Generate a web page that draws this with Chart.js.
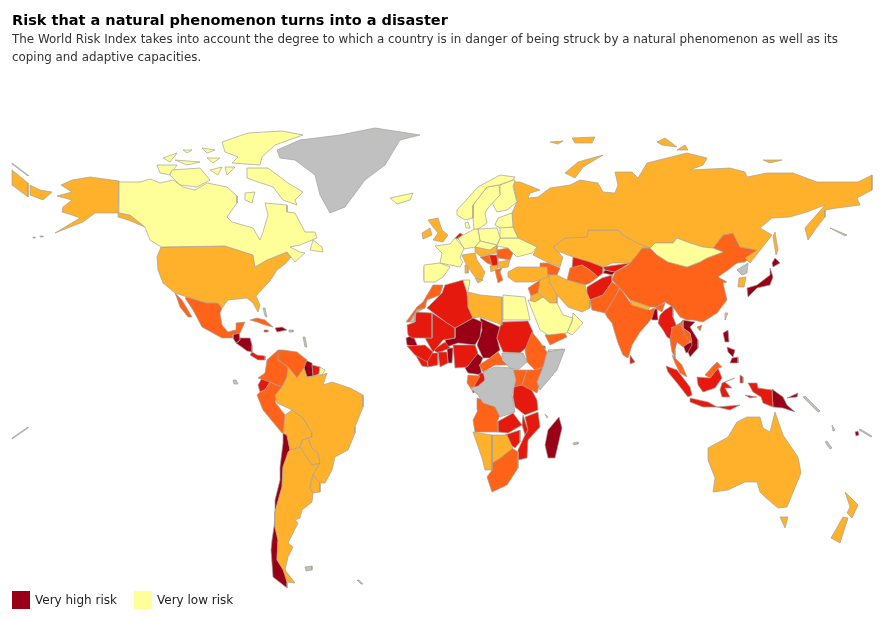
<!DOCTYPE html>
<html>
<head>
<meta charset="utf-8">
<title>World Risk Index</title>
<script src="https://cdn.jsdelivr.net/npm/chart.js@4"></script>
<style>
  html, body { margin: 0; background: #fff; }
  body { width: 886px; height: 619px; position: relative; overflow: hidden; font-family: "DejaVu Sans", sans-serif; }
  #map { position: absolute; left: 0; top: 0; }
  h1 { position: absolute; left: 12px; top: 11px; margin: 0; font-size: 14.5px; line-height: 18px; color: #000; white-space: nowrap; }
  p { position: absolute; left: 12px; top: 30px; margin: 0; font-size: 11.9px; line-height: 18px; color: #333; white-space: nowrap; }
  .key { position: absolute; top: 591px; height: 18px; font-size: 12px; line-height: 19px; color: #222; padding-left: 23px; white-space: nowrap; }
  .key i { position: absolute; left: 0; top: 0; width: 18px; height: 18px; }
</style>
</head>
<body>
<canvas id="map" width="886" height="619"></canvas>
<h1>Risk that a natural phenomenon turns into a disaster</h1>
<p>The World Risk Index takes into account the degree to which a country is in danger of being struck by a natural phenomenon as well as its<br>coping and adaptive capacities.</p>
<div class="key" style="left:12px"><i style="background:#990017"></i>Very high risk</div>
<div class="key" style="left:134px"><i style="background:#ffff99"></i>Very low risk</div>
<script>
// outlines, x,y pairs in map units
const canada = [119,182,140,182,150,179,160,183,173,180,183,187,195,190,207,183,227,187,237,196,237,203,227,217,232,222,253,228,260,240,263,232,268,215,265,203,287,205,287,212,295,213,305,232,315,232,317,238,300,245,290,247,300,252,305,253,295,262,291,257,287,252,267,260,255,267,253,255,225,246,161,247,150,240,145,227,130,215,119,213]
const baffin = [247,168,268,168,288,183,303,192,295,200,297,205,283,200,273,187,258,182,247,178]
const victoria = [172,170,200,168,210,180,197,187,180,185,170,175]
const banks = [157,165,177,165,170,175,160,173]
const ellesmere = [222,142,248,133,282,131,303,135,275,145,262,157,260,165,232,163,238,157,225,152]
const arctic1 = [163,158,177,153,170,162]
const arctic2 = [175,160,200,162,187,165]
const arctic3 = [183,150,192,150,187,153]
const arctic4 = [202,148,215,150,207,153]
const arctic5 = [207,158,220,158,213,163]
const arctic6 = [210,170,222,167,218,175]
const arctic7 = [225,167,235,167,227,175]
const southampton = [245,193,255,192,252,203,245,200]
const newfoundland = [313,240,322,247,323,252,310,250]
const alaska = [119,181,90,177,72,180,61,185,72,192,57,196,72,200,63,207,62,212,72,215,80,218,55,233,83,222,95,213,118,213,130,215,145,227,128,220,118,217]
const aleutian1 = [33,237,35,237,35,238,33,238]
const aleutian2 = [40,236,43,236,43,237,40,237]
const usa = [161,247,225,246,253,255,255,267,267,260,287,252,291,257,285,264,277,270,272,278,268,283,256,296,260,305,258,312,253,303,247,298,228,300,222,308,218,303,207,303,187,297,175,293,163,283,158,270,157,257]
const baja = [175,293,182,300,192,317,188,317,180,307,177,298]
const mexico = [187,297,207,303,218,303,222,308,220,313,222,325,228,332,235,330,236,323,245,322,240,333,232,335,233,338,222,338,202,327,193,310,185,298]
const guatemala = [233,338,233,333,239,333,240,340,236,343]
const honduras = [239,333,240,338,250,338,252,345,252,352,247,351,243,348,236,343,240,340]
const panama = [252,352,257,355,265,356,265,360,258,360,250,355]
const cuba = [250,320,257,318,265,320,273,327,265,325,257,322]
const haiti = [275,328,282,327,287,330,277,332]
const jamaica = [264,330,268,330,268,332,264,332]
const puertoRico = [289,330,293,330,293,332,289,332]
const bahamas = [263,308,265,308,267,317,265,316]
const antilles = [303,337,305,337,307,347,305,347]
const galapagos = [233,380,236,380,238,384,234,384]
const colombia = [278,350,267,360,265,373,258,378,270,382,282,387,287,377,288,367,278,360]
const venezuela = [278,350,283,350,297,352,307,360,304,368,297,378,288,367,278,360]
const guyana = [305,360,312,363,313,376,307,377,304,368]
const suriname = [312,365,320,367,319,374,313,376]
const frGuiana = [320,367,325,370,322,375,319,374]
const ecuador = [262,378,270,382,265,390,260,392,258,385]
const peru = [260,392,265,390,270,382,282,387,275,402,285,415,286,433,282,433,263,410,257,395]
const brazil = [288,367,297,378,304,368,307,377,322,375,327,373,323,385,332,382,350,388,363,395,363,407,355,427,355,433,348,450,335,457,332,470,325,483,320,483,313,475,320,463,318,453,312,448,308,438,312,437,312,433,303,418,292,410,277,403,275,395,282,387,287,377]
const bolivia = [285,415,292,410,303,418,312,433,312,437,308,438,302,440,300,447,297,448,290,450,287,435,283,433]
const paraguay = [302,440,308,438,312,448,318,453,320,463,312,465,300,447]
const uruguay = [313,475,320,483,320,492,313,493,310,488]
const argentina = [290,450,297,448,300,447,312,465,320,463,318,470,312,477,310,488,313,493,312,502,302,510,300,518,295,520,298,523,292,535,288,543,293,547,288,557,285,570,295,583,287,582,283,570,277,560,278,540,275,527,275,512,282,487,283,467,288,452]
const chile = [283,433,287,435,290,450,283,467,282,487,275,512,275,527,278,540,277,560,285,570,287,583,287,588,273,577,271,550,272,540,275,520,275,500,280,480,280,467,283,443]
const falklands = [305,567,312,566,312,570,306,571]
const georgiaIsl = [357,580,359,580,363,584,361,584]
const greenland = [277,150,300,140,340,135,375,128,420,135,400,140,385,165,365,180,345,207,330,213,320,195,315,175,295,160,280,158]
const iceland = [390,198,413,193,410,200,397,204]
const uk = [428,220,438,218,442,230,448,235,443,242,433,240,438,233,433,227]
const ireland = [422,233,430,228,432,235,423,239]
const france = [435,246,450,244,455,238,464,248,460,258,463,262,460,267,450,265,440,263,442,253]
const spain = [424,265,440,263,450,267,443,277,435,282,424,282]
const portugal = [424,267,430,267,429,278,424,280]
const netherlands = [455,238,460,233,463,235,462,240]
const germany = [463,235,475,229,478,229,480,241,475,247,464,249,458,238]
const denmark = [465,223,468,222,470,228,466,228]
const norway = [457,210,478,187,500,175,515,177,513,180,499,185,487,187,473,205,473,218,465,220,457,215]
const sweden = [473,205,487,187,499,185,500,195,488,208,485,213,487,223,480,228,474,230,473,218]
const finland = [500,185,513,180,515,180,513,187,517,202,507,210,497,212,492,203,500,195]
const baltics = [498,218,512,213,513,227,500,228,495,225]
const poland = [478,229,497,228,500,238,497,245,480,241]
const belarus = [500,227,513,227,518,238,500,238]
const ukraine = [500,238,518,238,537,247,532,253,517,257,508,248,497,246]
const czechia = [480,241,497,245,490,250,475,247]
const hungary = [475,247,497,246,497,253,480,256,475,252]
const italy = [462,255,475,253,477,260,485,272,482,280,475,277,470,270,465,262]
const sicily = [475,278,483,280,478,283]
const sardinia = [465,265,468,265,468,273,465,273]
const romania = [497,250,508,248,513,253,510,260,498,258]
const bulgaria = [498,262,510,260,508,267,500,268]
const serbia = [489,255,497,255,498,265,492,267]
const bosnia = [480,257,489,255,492,265,487,263]
const greece = [495,270,502,268,500,272,503,280,498,283]
const albania = [490,266,498,265,498,268,495,270,491,272]
const turkey = [508,272,517,267,547,267,548,277,533,282,515,282,508,277]
const caucasus = [540,263,548,263,560,268,557,275,549,275,540,272]
const russia = [513,182,520,182,540,190,530,193,528,198,538,197,550,188,570,185,580,180,598,183,603,192,615,193,618,185,615,172,632,172,638,178,647,163,667,158,687,153,707,158,703,165,690,170,730,168,745,172,747,177,767,173,793,173,817,182,837,182,858,182,872,175,872,190,857,198,860,205,837,208,825,210,825,217,817,227,808,240,805,228,825,205,807,212,790,217,772,218,760,228,772,235,758,253,750,263,745,258,757,250,740,247,733,233,723,235,713,248,703,247,690,243,677,238,673,243,655,243,650,248,637,243,623,235,618,230,588,230,587,237,565,238,553,247,558,252,563,257,560,267,547,262,533,255,537,247,518,238,513,227,512,213,517,202]
const chukotka1 = [12,170,28,183,28,197,12,185]
const chukotka2 = [30,185,40,190,52,192,43,200,30,195]
const arcticLine = [12,163,28,175,28,176,12,164]
const novaya = [565,173,578,162,603,155,583,167,575,178]
const severnaya1 = [657,142,665,138,677,147,662,145]
const severnaya2 = [677,150,685,145,688,150]
const siberianIsl = [763,160,782,160,770,163]
const svalbard1 = [550,142,563,141,558,144]
const svalbard2 = [572,138,595,137,592,143,575,143]
const sakhalin = [775,232,778,250,776,255,773,237]
const kuril = [830,228,833,229,847,235,845,236]
const kazakhstan = [553,247,565,238,587,237,588,230,618,230,623,235,637,243,650,248,642,248,637,255,630,263,612,263,603,267,590,262,573,257,568,255,560,252,555,255]
const uzbekistan = [573,257,583,258,603,267,603,273,598,277,590,270,582,265,572,268]
const turkmenistan = [570,268,582,265,590,270,598,277,590,283,585,285,567,280]
const kyrgyzstan = [603,267,630,263,615,272,605,270]
const tajikistan = [605,270,615,272,612,275,603,273]
const afghanistan = [587,287,602,278,612,275,612,282,603,295,590,300,587,293]
const iran = [549,275,557,275,567,280,585,285,587,293,590,300,590,308,582,312,568,307,557,295,550,283]
const pakistan = [590,300,603,295,612,282,620,287,615,297,605,313,592,310]
const india = [620,288,625,295,632,305,650,310,665,303,662,312,655,308,652,318,648,323,640,332,632,345,628,358,623,355,618,343,612,323,607,317,605,313,615,297]
const nepal = [630,300,650,307,648,310,632,305]
const bangladesh = [650,313,657,308,658,320,652,320]
const sriLanka = [630,355,635,362,630,364]
const china = [650,248,657,255,668,262,687,267,700,262,707,258,723,252,713,248,723,235,733,233,740,247,757,250,745,262,737,263,728,270,718,277,727,282,723,283,727,300,717,313,703,322,693,320,687,320,680,317,673,307,665,302,658,307,650,307,630,300,620,288,612,280,615,272,628,265,637,253,642,248]
const mongolia = [650,248,655,243,673,243,677,238,690,243,703,247,713,248,723,252,707,258,700,262,687,267,668,262,657,255]
const myanmar = [665,310,673,305,673,317,677,327,672,327,672,340,667,337,663,330,658,323,660,315]
const thailand = [672,328,680,323,685,335,690,342,683,347,677,342,675,350,675,358,672,352,670,340]
const peninsula = [672,355,682,365,687,377,680,373,675,363]
const vietnam = [683,320,695,322,690,327,698,340,698,348,690,357,688,352,692,345,690,333,683,328]
const cambodia = [683,345,692,342,694,350,686,353]
const laos = [680,323,683,320,683,328,690,333,692,342,685,340]
const japan = [747,288,757,285,770,275,770,268,773,277,770,285,757,288,748,297]
const hokkaido = [772,263,775,258,780,263,773,267]
const northKorea = [737,270,748,263,747,273,742,275]
const southKorea = [739,278,746,277,744,287,738,287]
const taiwan = [725,313,728,313,725,320]
const hainan = [697,327,702,325,700,331]
const luzon = [723,333,728,330,729,342,725,342]
const visayas = [727,347,735,350,733,357,728,352]
const mindanao = [732,358,738,357,738,363,730,363]
const sumatra = [666,366,677,370,690,387,692,395,688,397,677,383,668,372]
const java = [690,398,708,402,717,407,703,407,690,402]
const sundas = [717,407,740,405,730,410]
const kalimantan = [697,377,710,378,718,368,722,378,715,388,703,392,698,385]
const sabah = [705,375,712,367,717,362,722,367,718,368,710,378]
const sulawesi = [722,383,735,378,725,382,732,388,725,388,730,397,722,397,720,390]
const halmahera = [740,375,743,377,743,383,740,383]
const seram = [745,395,757,397,750,398]
const papua = [748,383,757,383,758,388,772,390,773,407,763,403,761,397,753,392]
const png = [772,389,783,397,787,405,795,412,783,408,773,407]
const newBritain = [787,398,798,393,797,397]
const solomons = [803,397,805,396,820,411,818,412]
const vanuatu = [832,425,835,430,833,431]
const newCaledonia = [825,442,827,441,832,448,830,449]
const fiji = [855,432,858,431,859,435,856,436]
const fijiLine = [860,429,872,436,871,437,859,430]
const dateLine = [12,438,28,427,28,428,12,439]
const australia = [708,448,728,437,737,422,747,417,760,417,763,428,770,432,775,412,783,435,798,457,801,473,787,507,778,508,765,497,760,492,757,482,745,482,728,490,713,492,715,478,708,460]
const tasmania = [780,517,788,517,785,528]
const nzNorth = [845,492,858,505,852,518,847,513,850,507]
const nzSouth = [843,517,848,518,840,543,831,538]
const morocco = [406,322,417,307,423,302,433,285,443,285,440,295,427,300,425,308,417,310,410,322]
const westSahara = [410,322,417,310,425,308,415,313,415,322]
const algeria = [427,308,442,293,445,285,463,280,467,292,468,307,473,318,455,328,447,323]
const tunisia = [463,280,470,280,468,292,467,292]
const libya = [468,292,480,295,502,297,502,325,497,323,480,317,473,318,468,307]
const egypt = [503,295,525,297,530,320,503,320]
const sudan = [502,322,528,321,533,332,527,347,520,353,503,352,497,338,500,327]
const mauritania = [407,325,415,322,416,312,432,313,432,338,425,338,412,338,408,335]
const mali = [432,313,455,328,455,338,443,340,433,352,425,338,432,338]
const niger = [455,328,473,318,482,322,480,337,475,345,458,343,447,347,445,340,455,338]
const chad = [480,318,500,327,497,338,500,350,490,358,483,358,477,345,482,330]
const senegal = [406,338,413,335,418,347,407,345]
const guinea = [407,346,425,345,433,352,427,362,415,355]
const liberia = [416,356,427,360,428,367,422,366]
const ivoryCoast = [427,353,438,353,438,365,428,367]
const ghana = [438,352,447,352,448,363,440,367]
const togo = [447,348,453,348,452,363,448,363]
const burkina = [433,350,445,342,450,348,438,353]
const nigeria = [453,345,475,345,478,353,467,367,455,368]
const cameroon = [477,353,483,358,480,365,482,375,468,373,465,368]
const car = [479,365,490,358,498,352,507,365,495,365,483,372]
const southSudan = [502,353,523,353,527,362,518,370,510,368,502,360]
const drc = [483,372,495,367,513,368,516,380,512,395,515,412,500,417,495,407,483,403,478,395,470,388,478,386,485,380]
const gabon = [468,375,480,376,472,390,467,383]
const congo = [480,373,487,373,482,388,473,393,472,390]
const ethiopia = [532,332,540,342,547,352,559,350,543,367,535,370,527,362,525,350]
const somalia = [547,352,565,349,557,370,540,390,537,382,543,367]
const somaliland = [548,350,563,349,555,355]
const djibouti = [541,346,545,346,545,349,541,349]
const kenya = [527,370,535,370,543,367,540,383,537,393,525,387,522,385]
const uganda = [513,370,527,370,522,385,514,387]
const tanzania = [514,386,522,385,530,387,537,400,538,410,525,415,515,407,513,397]
const mozambique = [538,412,540,427,528,440,527,458,518,460,518,450,525,435,528,430,525,417]
const zambia = [497,422,513,413,522,425,508,433,498,432]
const malawi = [523,415,528,430,525,435,522,425]
const zimbabwe = [505,435,520,430,520,442,515,448,508,443]
const angola = [477,398,495,403,500,415,497,422,498,432,475,432,473,420,478,410]
const namibia = [473,432,492,435,492,470,485,470,482,458]
const botswana = [492,435,507,435,513,448,500,458,492,463]
const southAfrica = [492,463,500,458,512,448,518,452,518,468,507,485,492,492,487,477,492,470]
const madagascar = [559,417,562,428,555,458,548,458,545,445,548,430]
const comoros = [545,414,548,417,547,418]
const mauritius = [573,443,578,442,578,444,574,445]
const yemen = [545,335,563,330,567,337,550,345]
const oman = [573,313,583,323,572,335,567,332,572,322]
const saudi = [528,300,535,302,543,297,550,303,557,303,563,315,573,318,567,333,548,335,540,330]
const iraq = [540,280,549,275,550,283,557,295,557,303,550,303,543,297,538,293]
const syria = [528,288,540,280,540,285,538,293,531,296]
const jordan = [531,296,538,293,543,297,535,302,530,300]

// risk classes
const veryHigh = [guatemala,honduras,haiti,guyana,chile,senegal,niger,chad,togo,cameroon,djibouti,madagascar,tajikistan,bangladesh,vietnam,cambodia,japan,hokkaido,luzon,visayas,mindanao,png,newBritain,fiji]
const high = [panama,jamaica,suriname,ecuador,netherlands,serbia,algeria,sudan,mauritania,mali,guinea,liberia,ivoryCoast,ghana,burkina,nigeria,congo,tanzania,mozambique,zambia,malawi,zimbabwe,uzbekistan,kyrgyzstan,afghanistan,sriLanka,myanmar,sumatra,java,sundas,kalimantan,sulawesi,halmahera,seram,papua]
const medium = [baja,mexico,cuba,colombia,venezuela,peru,morocco,bosnia,greece,romania,caucasus,car,gabon,ethiopia,kenya,uganda,angola,southAfrica,yemen,syria,turkmenistan,pakistan,india,china,thailand,peninsula,laos,hainan,sabah]
const low = [alaska,usa,brazil,bolivia,paraguay,uruguay,argentina,uk,ireland,portugal,italy,sicily,sardinia,hungary,bulgaria,albania,turkey,russia,chukotka1,chukotka2,novaya,severnaya1,severnaya2,siberianIsl,svalbard1,svalbard2,sakhalin,kazakhstan,iran,nepal,southKorea,namibia,botswana,libya,iraq,jordan,australia,tasmania,nzNorth,nzSouth]
const veryLow = [canada,baffin,victoria,banks,ellesmere,arctic1,arctic2,arctic3,arctic4,arctic5,arctic6,arctic7,southampton,newfoundland,frGuiana,iceland,france,spain,germany,czechia,denmark,norway,sweden,finland,baltics,poland,belarus,ukraine,tunisia,egypt,saudi,oman,mongolia]
const noData = [greenland,puertoRico,bahamas,antilles,galapagos,falklands,georgiaIsl,westSahara,southSudan,drc,somalia,northKorea,taiwan,newCaledonia,aleutian1,aleutian2,arcticLine,kuril,solomons,vanuatu,fijiLine,dateLine,comoros,mauritius]
const pale = [somaliland]

const classes = [
  [noData, '#c0c0c0'],
  [pale, '#dddddd'],
  [veryLow, '#ffff99'],
  [low, '#ffb12b'],
  [medium, '#ff6319'],
  [high, '#e6190f'],
  [veryHigh, '#990017']
]

const datasets = []
classes.forEach(([shapes, colour]) => {
  shapes.forEach((shape) => {
    let pts = []
    for (let i = 0; i < shape.length; i += 2) pts.push({x: shape[i], y: shape[i + 1]})
    pts.push(pts[0])
    datasets.push({
      data: pts,
      showLine: true,
      fill: 'shape',
      backgroundColor: colour,
      borderColor: '#a5a095',
      borderWidth: 0.7,
      pointRadius: 0,
      tension: 0
    })
  })
})

new Chart(document.getElementById('map'), {
  type: 'scatter',
  data: {datasets: datasets},
  options: {
    responsive: false,
    animation: false,
    layout: {padding: 0},
    plugins: {legend: {display: false}, tooltip: {enabled: false}},
    scales: {
      x: {type: 'linear', display: false, min: 0, max: 886},
      y: {type: 'linear', display: false, min: 0, max: 619, reverse: true}
    }
  }
})
</script>
</body>
</html>
